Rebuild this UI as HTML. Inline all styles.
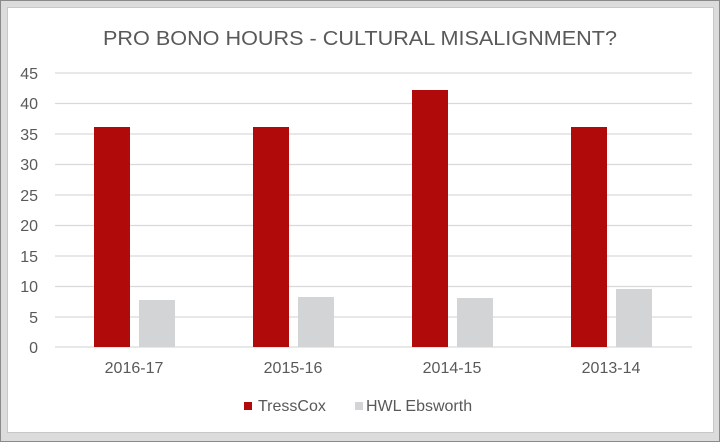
<!DOCTYPE html>
<html><head><meta charset="utf-8"><style>
html,body{margin:0;padding:0;background:#fff;}
</style></head><body>
<svg width="720" height="442" xmlns="http://www.w3.org/2000/svg" font-family="Liberation Sans, Arial, sans-serif">
<rect x="0" y="0" width="720" height="442" fill="#dcdcdc"/>
<rect x="0.5" y="0.5" width="719" height="441" fill="none" stroke="#8a8a8a"/>
<rect x="7.5" y="7.5" width="706" height="425" fill="#fff" stroke="#c8c8c8"/>
<text x="360" y="45" text-anchor="middle" font-size="20" fill="#595959" textLength="514" lengthAdjust="spacingAndGlyphs">PRO BONO HOURS - CULTURAL MISALIGNMENT?</text>
<g stroke="#d9d9d9" stroke-width="1.3">
<line x1="55" x2="692" y1="73" y2="73"/>
<line x1="55" x2="692" y1="103.5" y2="103.5"/>
<line x1="55" x2="692" y1="134" y2="134"/>
<line x1="55" x2="692" y1="164.5" y2="164.5"/>
<line x1="55" x2="692" y1="195" y2="195"/>
<line x1="55" x2="692" y1="225.5" y2="225.5"/>
<line x1="55" x2="692" y1="256" y2="256"/>
<line x1="55" x2="692" y1="286.5" y2="286.5"/>
<line x1="55" x2="692" y1="317" y2="317"/>
<line x1="55" x2="692" y1="347" y2="347"/>
</g>
<g font-size="16" fill="#595959" text-anchor="end">
<text x="38" y="79">45</text><text x="38" y="109">40</text><text x="38" y="140">35</text><text x="38" y="170">30</text><text x="38" y="201">25</text><text x="38" y="231">20</text><text x="38" y="262">15</text><text x="38" y="292">10</text><text x="38" y="323">5</text><text x="38" y="353">0</text>
</g>
<g fill="#b00a0a">
<rect x="94" y="127" width="36" height="220"/>
<rect x="253" y="127" width="36" height="220"/>
<rect x="412" y="90" width="36" height="257"/>
<rect x="571" y="127" width="36" height="220"/>
</g>
<g fill="#d2d4d5">
<rect x="139" y="300" width="36" height="47"/>
<rect x="298" y="297" width="36" height="50"/>
<rect x="457" y="298" width="36" height="49"/>
<rect x="616" y="289" width="36" height="58"/>
</g>
<g font-size="16" fill="#595959" text-anchor="middle">
<text x="134" y="373">2016-17</text><text x="293" y="373">2015-16</text><text x="452" y="373">2014-15</text><text x="611" y="373">2013-14</text>
</g>
<rect x="244" y="402" width="8" height="8" fill="#b00a0a"/>
<text x="258" y="411" font-size="16" fill="#595959">TressCox</text>
<rect x="355" y="402" width="8" height="8" fill="#d2d4d5"/>
<text x="366" y="411" font-size="16" fill="#595959">HWL Ebsworth</text>
</svg>
</body></html>
